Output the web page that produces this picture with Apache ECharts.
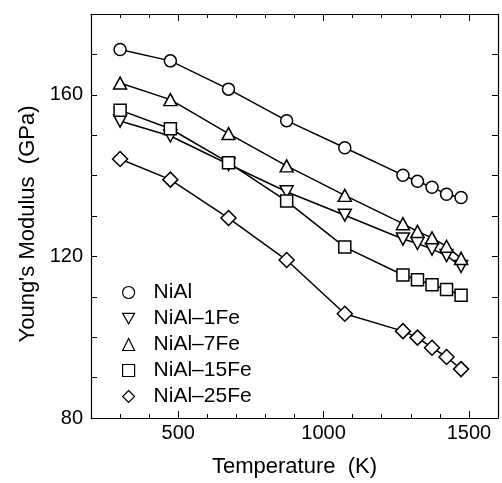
<!DOCTYPE html>
<html>
<head>
<meta charset="utf-8">
<script src="https://cdn.jsdelivr.net/npm/echarts@6/dist/echarts.min.js"></script>
<style>
  html, body { margin: 0; padding: 0; background: #fff; }
  #chart { width: 502px; height: 483px; }
</style>
</head>
<body>
<div id="chart"></div>
<script>
// temperatures (K)
const temps = [300, 473, 673, 873, 1073, 1273, 1323, 1373, 1423, 1473]
// Young's modulus (GPa)
const niAl = [171.2, 168.4, 161.4, 153.6, 146.9, 140.1, 138.6, 137.1, 135.4, 134.6]
const fe1 = [153.5, 149.8, 142.8, 136.0, 130.2, 124.3, 123.2, 121.8, 120.2, 117.5]
const fe7 = [162.9, 158.8, 150.4, 142.4, 135.1, 128.1, 126.2, 124.6, 122.5, 119.5]
const fe15 = [156.2, 151.6, 143.2, 133.7, 122.3, 115.4, 114.2, 113.0, 111.8, 110.4]
const fe25 = [144.1, 139.0, 129.5, 119.1, 105.8, 101.5, 99.9, 97.4, 95.1, 92.1]
const seriesNames = ['NiAl', 'NiAl\u20131Fe', 'NiAl\u20137Fe', 'NiAl\u201315Fe', 'NiAl\u201325Fe']
const xLabels = [500, 1000, 1500]
const yLabels = [80, 120, 160]

const downTri = 'path://M0,0L10,0L5,8.66Z'
const symbols = ['circle', downTri, 'triangle', 'rect', 'diamond']
const sizes = [12, [13, 12], [13, 12], 12, 15]
const legendIcons = ['circle', downTri, 'triangle', 'rect', 'diamond']
const allData = [niAl, fe1, fe7, fe15, fe25]

const chart = echarts.init(document.getElementById('chart'))
const font = 'Liberation Sans, Arial, sans-serif'

const baseX = {
    type: 'value', min: 200, max: 1600, interval: 100,
    splitLine: { show: false },
    axisLine: { show: true, lineStyle: { color: '#000', width: 1.2 } },
    axisTick: { show: true, inside: true, length: 4, lineStyle: { color: '#000' } },
    axisLabel: { show: false }
}
const baseY = {
    type: 'value', min: 80, max: 180, interval: 10,
    splitLine: { show: false },
    axisLine: { show: true, lineStyle: { color: '#000', width: 1.2 } },
    axisTick: { show: true, inside: true, length: 6, lineStyle: { color: '#000' } },
    axisLabel: { show: false }
}

const option = {
    animation: false,
    grid: { left: 91, right: 4, top: 14, bottom: 65 },
    xAxis: [
        Object.assign({}, baseX, {
            position: 'bottom',
            name: 'Temperature  (K)',
            nameLocation: 'middle',
            nameGap: 38,
            nameTextStyle: { fontFamily: font, fontSize: 22, color: '#000' },
            axisLabel: {
                show: true, color: '#000', fontFamily: font, fontSize: 20, margin: 5,
                formatter: v => xLabels.includes(v) ? String(v) : ''
            }
        }),
        Object.assign({}, baseX, { position: 'top' }),
        Object.assign({}, baseX, {
            position: 'bottom', axisLine: { show: false },
            axisTick: { show: true, inside: true, length: 7, customValues: xLabels, lineStyle: { color: '#000' } }
        }),
        Object.assign({}, baseX, {
            position: 'top', axisLine: { show: false },
            axisTick: { show: true, inside: true, length: 7, customValues: xLabels, lineStyle: { color: '#000' } }
        })
    ],
    yAxis: [
        Object.assign({}, baseY, {
            position: 'left',
            name: "Young's Modulus  (GPa)",
            nameLocation: 'middle',
            nameGap: 52,
            nameTextStyle: { fontFamily: font, fontSize: 22, color: '#000', padding: [0, 16, 0, 0] },
            axisLabel: {
                show: true, color: '#000', fontFamily: font, fontSize: 20, margin: 8,
                formatter: v => yLabels.includes(v) ? String(v) : ''
            }
        }),
        Object.assign({}, baseY, { position: 'right' })
    ],
    legend: {
        orient: 'vertical',
        left: 117, top: 277,
        itemWidth: 12, itemHeight: 12,
        itemGap: 5,
        textStyle: { fontFamily: font, fontSize: 21, color: '#000', padding: [0, 0, 0, 14] },
        itemStyle: { color: '#fff', borderColor: '#000', borderWidth: 1.2 },
        data: seriesNames.map((n, i) => ({ name: n, icon: legendIcons[i] }))
    },
    series: seriesNames.map((name, i) => ({
        name: name,
        type: 'line',
        xAxisIndex: 0, yAxisIndex: 0,
        symbol: symbols[i],
        symbolSize: sizes[i],
        showAllSymbol: true,
        lineStyle: { color: '#000', width: 1.5 },
        itemStyle: { color: '#fff', borderColor: '#000', borderWidth: 1.5 },
        data: temps.map((t, j) => [t, allData[i][j]])
    }))
}
chart.setOption(option)
window.addEventListener('resize', function() {
    chart.resize()
})
</script>
</body>
</html>
